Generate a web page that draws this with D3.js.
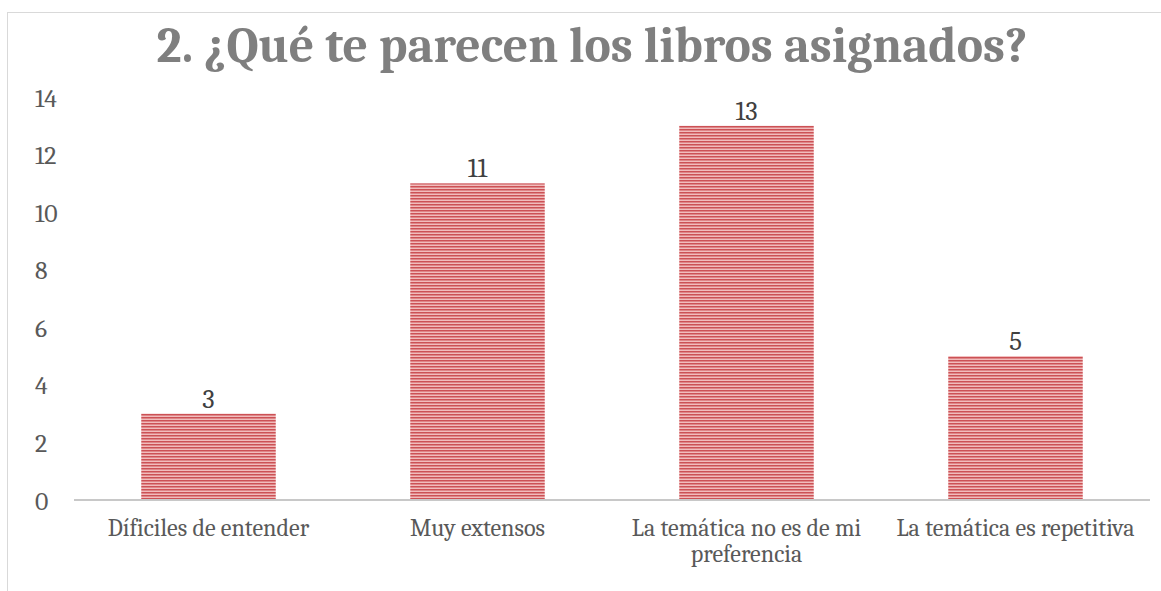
<!DOCTYPE html>
<html><head><meta charset="utf-8">
<script src="https://cdn.jsdelivr.net/npm/d3@7"></script>
<style>body{margin:0;background:#fff}svg{display:block}</style>
</head><body>
<script>
const categories = ["Díficiles de entender", "Muy extensos", "La temática no es de mi preferencia", "La temática es repetitiva"];
const categoryLines = [["Díficiles de entender"], ["Muy extensos"], ["La temática no es de mi", "preferencia"], ["La temática es repetitiva"]];
const values = [3, 11, 13, 5];
const yTicks = [0, 2, 4, 6, 8, 10, 12, 14];
const title = "2. ¿Qué te parecen los libros asignados?";

const W = 1161, H = 591;
const svg = d3.select("body").append("svg").attr("width", W).attr("height", H);
const serif = "Cambria, 'Liberation Serif', 'DejaVu Serif', serif";

svg.append("rect").attr("x", 7.5).attr("y", 12.5).attr("width", 1300).attr("height", 700)
  .attr("fill", "#fff").attr("stroke", "#d9d9d9").attr("stroke-width", 1);

const defs = svg.append("defs");
const pat = defs.append("pattern").attr("id", "stripes").attr("patternUnits", "userSpaceOnUse")
  .attr("width", 8).attr("height", 3);
pat.append("rect").attr("width", 8).attr("height", 3).attr("fill", "#f1bcbc");
pat.append("rect").attr("width", 8).attr("height", 1.5).attr("fill", "#cc5155");

function fitSize(sel, target) {
  const node = sel.node();
  const fs = parseFloat(sel.attr("font-size"));
  const w = node.getComputedTextLength();
  return w > 0 ? fs * target / w : fs;
}

const t = svg.append("text").attr("x", 592).attr("y", 62).attr("text-anchor", "middle")
  .attr("font-family", serif).attr("font-weight", "bold").attr("font-size", 46)
  .attr("fill", "#7f7f7f").text(title);
t.attr("font-size", fitSize(t, 871));

const x = d3.scaleBand().domain(categories).range([74, 1150]).paddingInner(0.5).paddingOuter(0.25);
const y = d3.scaleLinear().domain([0, 14]).range([500, 97]);

// y tick labels (no axis line)
const yAxis = d3.axisLeft(y).tickValues(yTicks).tickSize(0).tickPadding(0);
const ya = svg.append("g").attr("transform", "translate(35,0)").call(yAxis);
ya.select(".domain").remove();
ya.selectAll("text").attr("text-anchor", "start").attr("font-family", serif)
  .attr("font-size", 16).attr("fill", "#595959").attr("dy", "0.35em");
const tickFs = fitSize(ya.selectAll("text").filter(d => d === 14), 22);
ya.selectAll("text").attr("font-size", tickFs);

// bars
svg.append("g").selectAll("rect").data(values).join("rect")
  .attr("x", (d, i) => x(categories[i]))
  .attr("y", d => y(d))
  .attr("width", x.bandwidth())
  .attr("height", d => y(0) - y(d))
  .attr("fill", "url(#stripes)");

// baseline
const xAxis = d3.axisBottom(x).tickSize(0).tickFormat("");
const xa = svg.append("g").attr("transform", `translate(0,${y(0)})`).call(xAxis);
xa.select(".domain").attr("stroke", "#c8c8c8").attr("stroke-width", 2.2).attr("d", "M74,0H1150");

// data labels
const dl = svg.append("g").selectAll("text").data(values).join("text")
  .attr("x", (d, i) => x(categories[i]) + x.bandwidth() / 2)
  .attr("y", d => y(d) - 6)
  .attr("text-anchor", "middle").attr("font-family", serif).attr("font-size", 17)
  .attr("fill", "#404040").text(d => d);
dl.attr("font-size", fitSize(dl.filter(d => d === 13), 22));

// category labels
const cg = svg.append("g");
categoryLines.forEach((lines, i) => {
  const cx = x(categories[i]) + x.bandwidth() / 2;
  lines.forEach((ln, j) => {
    cg.append("text").attr("x", cx).attr("y", 536 + j * 26).attr("text-anchor", "middle")
      .attr("font-family", serif).attr("font-size", 17.5).attr("fill", "#595959").text(ln);
  });
});
const catFs = fitSize(cg.selectAll("text").filter(function() { return this.textContent === "La temática es repetitiva"; }), 238);
cg.selectAll("text").attr("font-size", catFs);
</script>
</body></html>
